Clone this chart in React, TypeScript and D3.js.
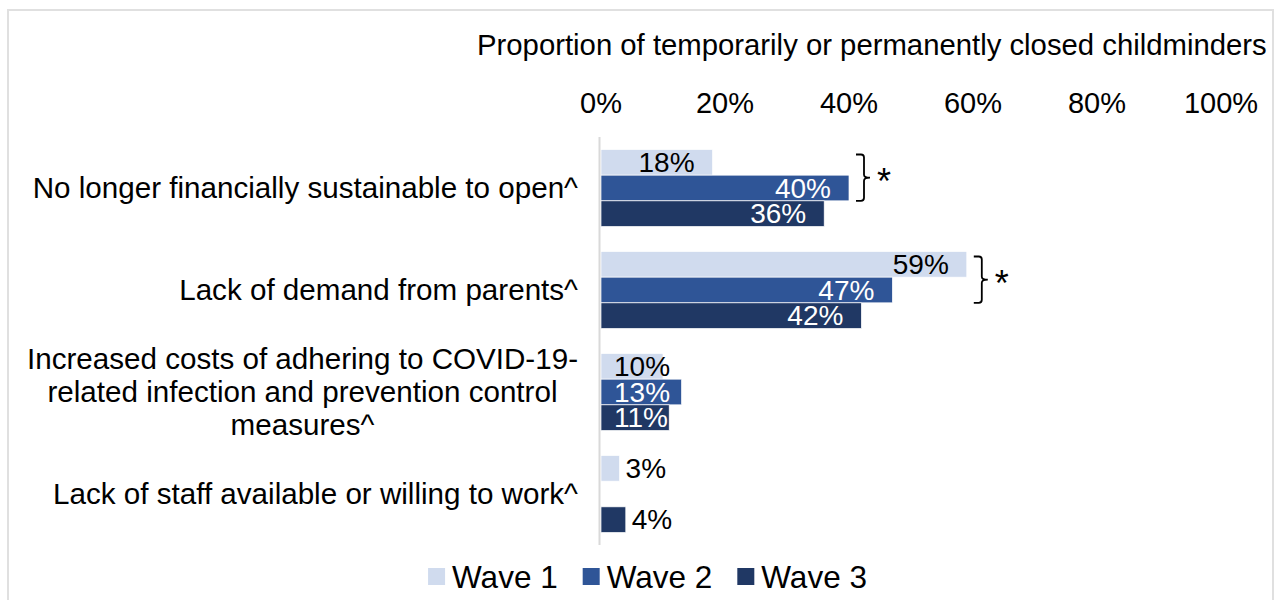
import React, { useEffect, useRef } from "react";
import * as d3 from "d3";

const categories: string[][] = [
  ["No longer financially sustainable to open^"],
  ["Lack of demand from parents^"],
  ["Increased costs of adhering to COVID-19-", "related infection and prevention control", "measures^"],
  ["Lack of staff available or willing to work^"],
];
const seriesNames = ["Wave 1", "Wave 2", "Wave 3"];
const wave1 = [0.18, 0.59, 0.10, 0.03];
const wave2: (number | null)[] = [0.40, 0.47, 0.13, null];
const wave3 = [0.36, 0.42, 0.11, 0.04];
const significant = [true, true, false, false];
const tickValues = [0, 0.2, 0.4, 0.6, 0.8, 1.0];
const axisTitle = "Proportion of temporarily or permanently closed childminders";
const colors = ["#D0DBEE", "#2F5597", "#203864"];
const labelColors = ["#000000", "#FFFFFF", "#FFFFFF"];

const W = 1277;
const H = 600;
const FONT = "'Liberation Sans', Arial, sans-serif";

export default function App() {
  const ref = useRef<SVGSVGElement>(null);

  useEffect(() => {
    const svg = d3.select(ref.current);
    svg.selectAll("*").remove();

    // frame
    svg.append("rect").attr("x", 8).attr("y", 10).attr("width", 1265).attr("height", 600)
      .attr("fill", "white").attr("stroke", "#E0E0E0").attr("stroke-width", 2);

    const x = d3.scaleLinear().domain([0, 1]).range([601, 1221]);
    const y = d3.scaleBand<number>().domain(d3.range(categories.length)).range([137, 545])
      .paddingInner(0.245).paddingOuter(0.1225);
    const bh = y.bandwidth() / 3;

    // title
    svg.append("text").attr("x", 477).attr("y", 45).attr("dy", "0.35em")
      .attr("font-family", FONT).attr("font-size", 29.3).attr("fill", "#000").text(axisTitle);

    // ticks
    svg.append("g").selectAll("text").data(tickValues).join("text")
      .attr("x", d => x(d)).attr("y", 103).attr("dy", "0.35em").attr("text-anchor", "middle")
      .attr("font-family", FONT).attr("font-size", 29).attr("fill", "#000")
      .text(d => d3.format(".0%")(d));

    // bars
    const series = [wave1, wave2, wave3];
    const gBars = svg.append("g");
    series.forEach((vals, si) => {
      vals.forEach((v, ci) => {
        if (v == null) return;
        const y0 = (y(ci) as number) + si * bh;
        const x1 = x(v);
        gBars.append("rect").attr("x", x(0)).attr("y", y0).attr("width", x1 - x(0)).attr("height", bh)
          .attr("fill", colors[si]).attr("stroke", "#FFFFFF").attr("stroke-width", 0.7);
        const barW = x1 - x(0);
        const t = gBars.append("text").attr("y", y0 + bh / 2).attr("dy", "0.35em")
          .attr("font-family", FONT).attr("font-size", 28).text(d3.format(".0%")(v));
        if (barW < 40) {
          t.attr("x", x1 + 6).attr("text-anchor", "start").attr("fill", "#000");
        } else if (barW < 100) {
          t.attr("x", x(0) + 13).attr("text-anchor", "start").attr("fill", labelColors[si]);
        } else {
          t.attr("x", x1 - 18).attr("text-anchor", "end").attr("fill", labelColors[si]);
        }
      });
    });

    // axis line
    svg.append("line").attr("x1", 599.5).attr("x2", 599.5).attr("y1", 137).attr("y2", 545)
      .attr("stroke", "#D9D9D9").attr("stroke-width", 2);

    // category labels
    const gCat = svg.append("g");
    categories.forEach((lines, ci) => {
      const cy = (y(ci) as number) + y.bandwidth() / 2;
      const right = 578;
      const lh = 33;
      if (lines.length === 1) {
        gCat.append("text").attr("x", right).attr("y", cy).attr("dy", "0.35em").attr("text-anchor", "end")
          .attr("font-family", FONT).attr("font-size", 29.6).attr("fill", "#000").text(lines[0]);
      } else {
        const texts = lines.map((ln, li) =>
          gCat.append("text").attr("y", cy + (li - (lines.length - 1) / 2) * lh).attr("dy", "0.35em")
            .attr("text-anchor", "middle").attr("font-family", FONT).attr("font-size", 29.6)
            .attr("fill", "#000").text(ln));
        const maxW = d3.max(texts, t => (t.node() as SVGTextElement).getComputedTextLength()) || 0;
        texts.forEach(t => t.attr("x", right - maxW / 2));
      }
    });

    // significance brackets
    const gSig = svg.append("g");
    significant.forEach((s, ci) => {
      if (!s) return;
      const top = (y(ci) as number) + 5;
      const bottom = (y(ci) as number) + 2 * bh;
      const mid = (top + bottom) / 2;
      const m = Math.max(wave1[ci], (wave2[ci] as number) || 0);
      const x0 = x(m) + 7;
      const x1 = x0 + 8;
      const r = 3;
      const p = `M${x0},${top} H${x1 - r} Q${x1},${top} ${x1},${top + r} V${mid - r} Q${x1},${mid} ${x1 + 6},${mid} Q${x1},${mid} ${x1},${mid + r} V${bottom - r} Q${x1},${bottom} ${x1 - r},${bottom} H${x0}`;
      gSig.append("path").attr("d", p).attr("fill", "none").attr("stroke", "#000").attr("stroke-width", 1.8);
      gSig.append("text").attr("x", x1 + 13).attr("y", mid + 16).attr("font-family", FONT)
        .attr("font-size", 36).attr("fill", "#000").text("*");
    });

    // legend
    const gLeg = svg.append("g");
    const items = seriesNames.map((name, i) => {
      const g = gLeg.append("g");
      g.append("rect").attr("x", 0).attr("y", -8.5).attr("width", 17).attr("height", 17).attr("fill", colors[i]);
      const t = g.append("text").attr("x", 24).attr("y", 0).attr("dy", "0.35em").attr("font-family", FONT)
        .attr("font-size", 31.5).attr("fill", "#000").text(name);
      const w = 24 + (t.node() as SVGTextElement).getComputedTextLength();
      return { g, w };
    });
    const gap = 25;
    const total = d3.sum(items, d => d.w) + gap * (items.length - 1);
    let cx = 647.5 - total / 2;
    items.forEach(it => {
      it.g.attr("transform", `translate(${cx},576.5)`);
      cx += it.w + gap;
    });
  }, []);

  return (
    <svg ref={ref} width={W} height={H}
      style={{ position: "absolute", left: 0, top: 0, display: "block", background: "white" }} />
  );
}
